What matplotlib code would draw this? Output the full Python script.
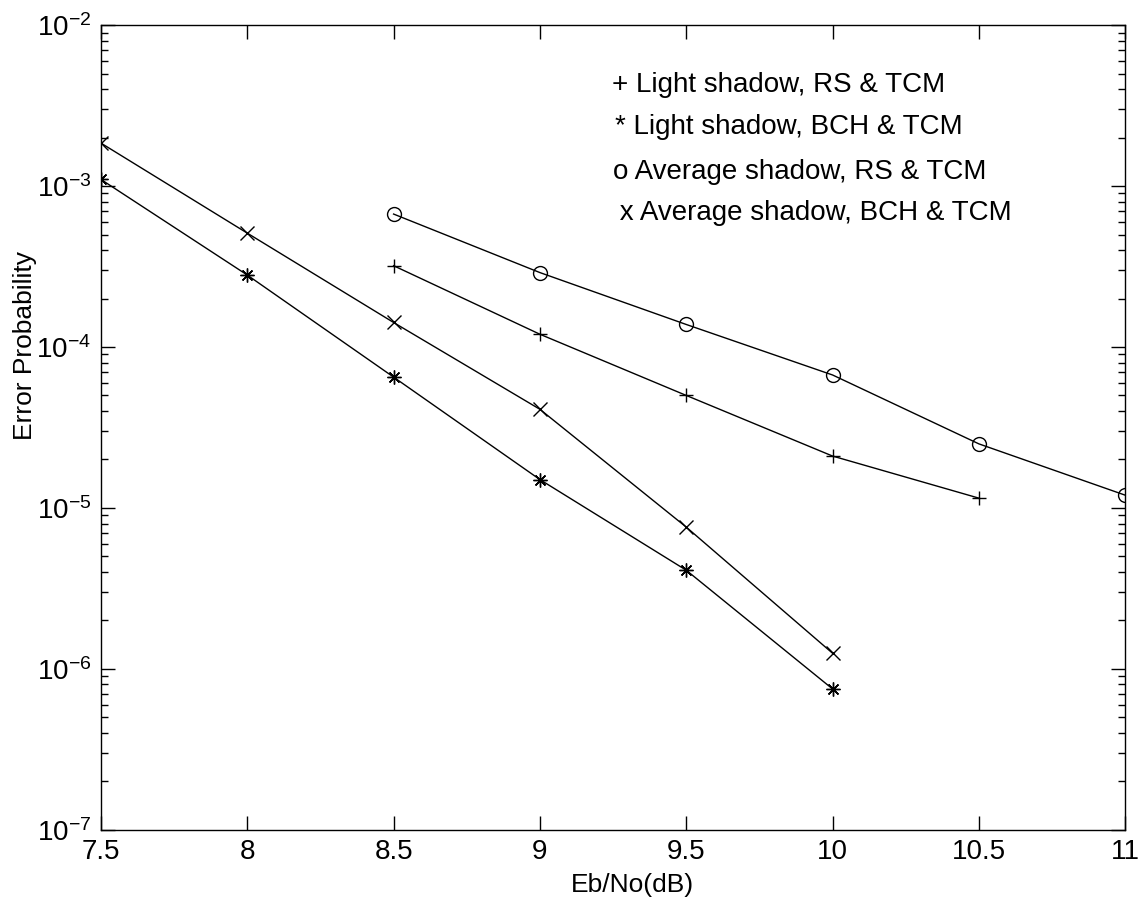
import matplotlib
matplotlib.use("Agg")
import matplotlib.pyplot as plt

plt.rcParams['font.family'] = ['Liberation Sans', 'DejaVu Sans']
plt.rcParams['mathtext.default'] = 'regular'

# Eb/No (dB) for each curve
snr_short = [8.5, 9, 9.5, 10, 10.5]
snr_long = [8.5, 9, 9.5, 10, 10.5, 11]
snr_bch = [7.5, 8, 8.5, 9, 9.5, 10]

# error probabilities
light_rs = [3.2e-4, 1.2e-4, 5.0e-5, 2.1e-5, 1.15e-5]
light_bch = [1.1e-3, 2.8e-4, 6.5e-5, 1.5e-5, 4.1e-6, 7.5e-7]
avg_rs = [6.7e-4, 2.9e-4, 1.38e-4, 6.7e-5, 2.5e-5, 1.2e-5]
avg_bch = [1.85e-3, 5.1e-4, 1.42e-4, 4.1e-5, 7.6e-6, 1.25e-6]

legend_lines = ["+ Light shadow, RS & TCM",
                "* Light shadow, BCH & TCM",
                "o Average shadow, RS & TCM",
                " x Average shadow, BCH & TCM"]

fig = plt.figure(figsize=(11.47, 8.98), dpi=100)
ax = fig.add_axes([0.088, 0.076, 0.893, 0.896])

kw = dict(color='k', lw=1.0, markersize=10, markeredgewidth=1.0)
ax.semilogy(snr_short, light_rs, marker='+', **kw)
ax.semilogy(snr_bch, light_bch, marker=(8, 2, 0), **kw)
ax.semilogy(snr_long, avg_rs, marker='o', markerfacecolor='none', **kw)
ax.semilogy(snr_bch, avg_bch, marker='x', **kw)

ax.set_xlim(7.5, 11)
ax.set_ylim(1e-7, 1e-2)
ax.set_xticks([7.5, 8, 8.5, 9, 9.5, 10, 10.5, 11])
ax.set_xticklabels(["7.5", "8", "8.5", "9", "9.5", "10", "10.5", "11"])
ax.tick_params(which='both', direction='in', top=True, right=True, labelsize=20)
ax.tick_params(which='major', length=10, width=1.0, pad=7)
ax.tick_params(which='minor', length=5, width=1.0)
for s in ax.spines.values():
    s.set_linewidth(1.0)

# axis titles sit where the reference has them
fig.text(632 / 1147, 1 - 885 / 898, "Eb/No(dB)", fontsize=19, ha='center', va='center')
fig.text(25 / 1147, 1 - 345 / 898, "Error Probability", fontsize=19,
         ha='center', va='center', rotation=90)

ys = [85, 127, 172, 213]
xs = [612, 615, 613, 612]
for t, x, y in zip(legend_lines, xs, ys):
    fig.text(x / 1147, 1 - y / 898, t, fontsize=20, va='center', ha='left')

plt.savefig("out.png", dpi=100)
